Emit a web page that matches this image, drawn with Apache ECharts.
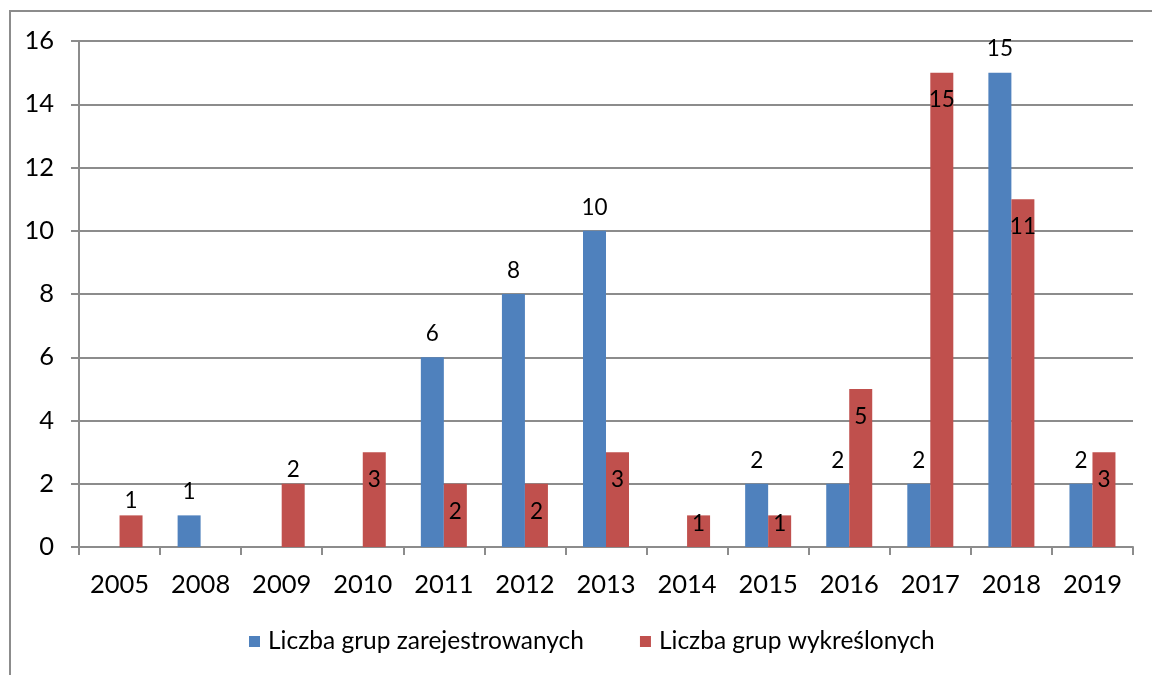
<!DOCTYPE html>
<html lang="pl">
<head>
    <meta charset="utf-8">
    <title>Liczba grup</title>
    <script src="https://cdn.jsdelivr.net/npm/echarts@6/dist/echarts.min.js"></script>
    <style type="text/css">
        html, body {
            margin: 0;
            padding: 0;
            background: #fff;
        }

        #main {
            width: 1152px;
            height: 675px;
        }
    </style>
</head>
<body>
<div id="main"></div>

<script type="text/javascript">
    var years = ['2005', '2008', '2009', '2010', '2011', '2012', '2013', '2014', '2015', '2016', '2017', '2018', '2019'];
    var zarejestrowane = [null, 1, null, null, 6, 8, 10, null, 2, 2, 2, 15, 2];
    var wykreslone = [1, null, 2, 3, 2, 2, 3, 1, 1, 5, 15, 11, 3];
    var yTicks = [0, 2, 4, 6, 8, 10, 12, 14, 16];

    var font = 'Lato';

    // czerwone etykiety: zwykle w srodku, krotkie slupki inaczej
    var redLabels = wykreslone.map(function (v, i) {
        var lab = {position: 'insideTop', distance: 16};
        if (i === 0 || i === 2) {
            lab = {position: 'top', distance: 3};
        } else if (v === 1) {
            lab = {position: 'insideTop', distance: -3};
        }
        return {value: v, label: lab};
    });

    var myChart = echarts.init(document.getElementById('main'));
    var option = {
        animation: false,
        textStyle: {fontFamily: font},
        graphic: [{
            type: 'rect',
            shape: {x: 10, y: 11, width: 1200, height: 700},
            style: {fill: 'none', stroke: '#8c8c8c', lineWidth: 2}
        }],
        legend: {
            bottom: 16,
            left: 244,
            itemWidth: 11,
            itemHeight: 11,
            itemGap: 56,
            icon: 'rect',
            textStyle: {fontSize: 24.5, color: '#000', fontFamily: font, padding: [0, 0, 0, 3]},
            data: ['Liczba grup zarejestrowanych', 'Liczba grup wykreślonych']
        },
        grid: {
            left: 79,
            right: 19,
            top: 41,
            bottom: 128,
            containLabel: false
        },
        xAxis: {
            type: 'category',
            data: years,
            axisLine: {lineStyle: {color: '#8c8c8c', width: 2}},
            axisTick: {show: true, length: 8, inside: false, lineStyle: {color: '#8c8c8c', width: 2}},
            axisLabel: {fontSize: 25.5, color: '#000', margin: 25}
        },
        yAxis: {
            type: 'value',
            min: yTicks[0],
            max: yTicks[yTicks.length - 1],
            interval: 2,
            axisLine: {show: true, lineStyle: {color: '#8c8c8c', width: 2}},
            axisTick: {show: true, length: 8, lineStyle: {color: '#8c8c8c', width: 2}},
            splitLine: {lineStyle: {color: '#8c8c8c', width: 2}},
            axisLabel: {fontSize: 25.5, color: '#000', margin: 25}
        },
        series: [{
            name: 'Liczba grup zarejestrowanych',
            type: 'bar',
            barWidth: 23,
            barGap: '0%',
            itemStyle: {color: '#4F81BD'},
            label: {show: true, position: 'top', distance: 12, fontSize: 22.5, color: '#000', fontFamily: font},
            data: zarejestrowane
        }, {
            name: 'Liczba grup wykreślonych',
            type: 'bar',
            barWidth: 23,
            barGap: '0%',
            itemStyle: {color: '#C0504D'},
            label: {show: true, fontSize: 22.5, color: '#000', fontFamily: font},
            data: redLabels
        }]
    };
    myChart.setOption(option);
</script>
</body>
</html>
